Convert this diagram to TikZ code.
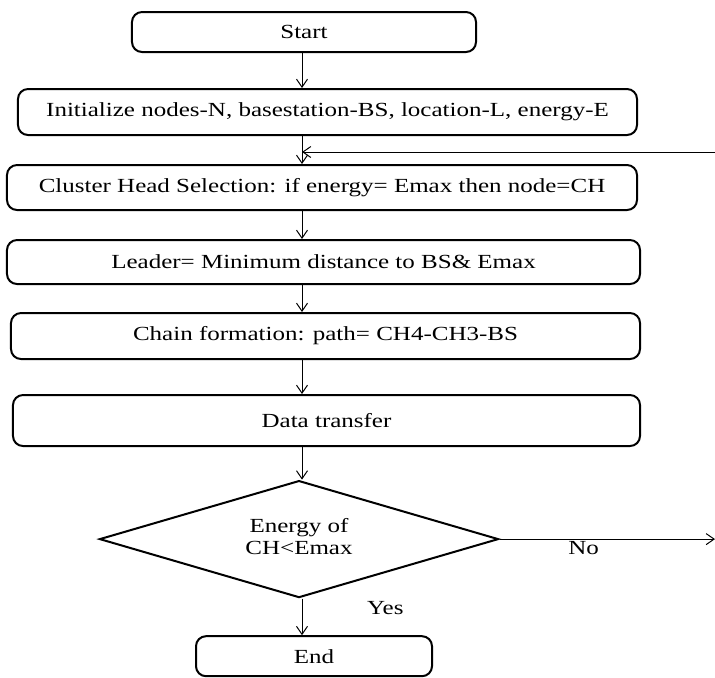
\documentclass[tikz,border=0pt]{standalone}
\usepackage{fontspec}
\setmainfont{Liberation Serif}[FakeStretch=1.25]
\usetikzlibrary{matrix,positioning,arrows.meta,shapes.geometric}

\begin{document}
\begin{tikzpicture}[x=0.5pt, y=-0.5pt,
  font=\fontsize{10}{11}\selectfont,
  >={Straight Barb[length=4pt,width=5.5pt]},
  stepbox/.style={draw, rounded corners=5pt, line width=1pt, inner sep=0pt},
  decision/.style={draw, diamond, aspect=3.4, line width=1pt, inner sep=0pt},
  flow/.style={->, line width=0.5pt}]
  \useasboundingbox (0,0) rectangle (715,677);
  \matrix (m) [matrix of nodes, row sep=13.5pt, matrix anchor=m-1-1.north] at (304,11)
  {
    |[stepbox, minimum width=172pt, minimum height=20pt, xshift=1pt]| Start \\[4pt]
    |[stepbox, minimum width=309.5pt, minimum height=23pt, xshift=12.75pt]| Initialize nodes-N, basestation-BS, location-L, energy-E \\[0.5pt]
    |[stepbox, minimum width=315pt, minimum height=22.5pt, xshift=10pt]| Cluster Head Selection: if energy= Emax then node=CH \\[0.5pt]
    |[stepbox, minimum width=316.5pt, minimum height=22pt, xshift=10.75pt]| Leader= Minimum distance to BS\& Emax \\
    |[stepbox, minimum width=314.5pt, minimum height=23pt, xshift=11.75pt]| Chain formation: path= CH4-CH3-BS \\[3.5pt]
    |[stepbox, minimum width=313.5pt, minimum height=25.5pt, xshift=12.25pt]| Data transfer \\[3pt]
    |[decision, minimum width=199.5pt, minimum height=58.5pt, xshift=-1.5pt]| \begin{tabular}{@{}c@{}}Energy of\tabularnewline CH<Emax\end{tabular} \\[5pt]
    |[stepbox, minimum width=118pt, minimum height=20pt, xshift=6pt]| End \\
  };
  \coordinate (axis) at (302,0);
  \coordinate (back) at (715,152);
  \coordinate (noend) at (m-7-1.east -| back);
  \foreach \i/\j in {1/2,2/3,3/4,4/5,5/6,6/7}
    \draw[flow] (m-\i-1.south -| axis) -- (m-\j-1.north -| axis);
  \draw[flow] (m-7-1.south -| axis) -- node[near start, right=29pt] {Yes} (m-8-1.north -| axis);
  \draw[flow] (back) -- (back -| axis);
  \draw[flow] (m-7-1.east) -- node[pos=0.39, below=1pt, inner sep=0pt] {No} (noend);
\end{tikzpicture}
\end{document}
